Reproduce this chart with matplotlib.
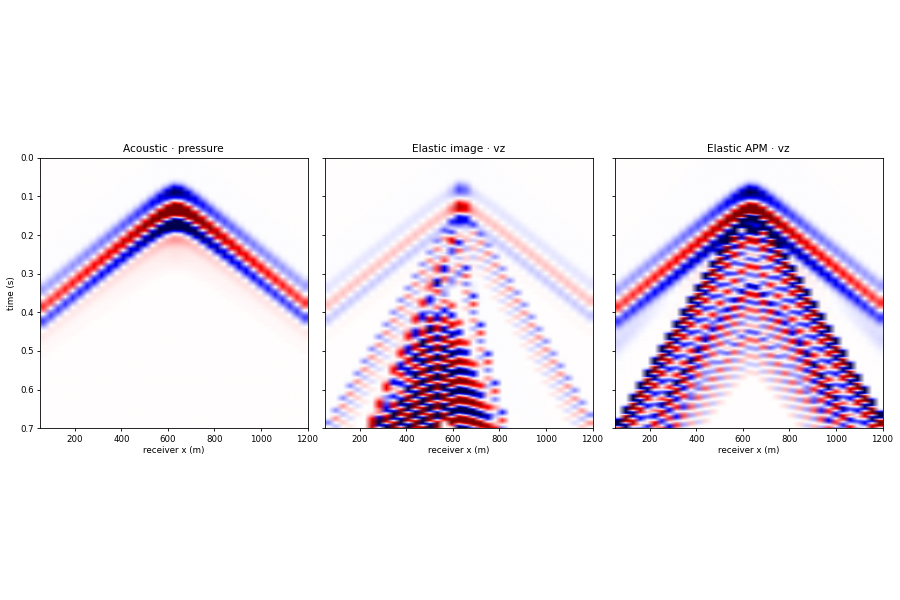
import numpy as np
import matplotlib
matplotlib.use("Agg")
import matplotlib.pyplot as plt

# receiver positions and time axis of the gathers
X_REC = np.linspace(50, 1200, 37)
T_AX = np.arange(0.0, 0.7 + 1e-9, 0.002)
X_SRC = 635.0

PANEL_TITLES = ["Acoustic · pressure", "Elastic image · vz", "Elastic APM · vz"]
X_TICKS = [200, 400, 600, 800, 1000, 1200]
Y_TICKS = [0.0, 0.1, 0.2, 0.3, 0.4, 0.5, 0.6, 0.7]

# wavelet lobes: delay after arrival (s), relative amplitude, width (s)
P_LOBE_T = [-0.045, 0.0, 0.038, 0.075, 0.11]
P_LOBE_A = [-0.36, 0.8, -0.7, 0.07, 0.02]
P_LOBE_W = [0.018, 0.016, 0.016, 0.018, 0.04]

S_LOBE_T = [0.0, 0.021, 0.042, 0.063, 0.084, 0.105]
S_LOBE_A = [-1.0, 0.9, -0.55, 0.45, -0.3, 0.2]
S_LOBE_W = [0.008, 0.008, 0.008, 0.008, 0.008, 0.008]

BAND_LOBE_T = [0.0, 0.035, 0.07, 0.105]
BAND_LOBE_A = [0.6, -0.8, 0.3, -0.6]
BAND_LOBE_W = [0.014, 0.014, 0.014, 0.014]

CODA_LOBE_T = [0.0, 0.025, 0.05, 0.075, 0.10, 0.125, 0.15, 0.175, 0.20, 0.225, 0.25, 0.275, 0.30]
CODA_LOBE_A = [0.3, -0.4, 0.5, -0.6, 0.7, -0.8, 0.9, -1.0, 1.0, -1.0, 1.0, -1.0, 1.0]
CODA_LOBE_W = [0.009] * 13

FILL_LOBE_T = [0.03]
FILL_LOBE_A = [-1.0]
FILL_LOBE_W = [0.04]

WAVELETS = {
    "P": (P_LOBE_T, P_LOBE_A, P_LOBE_W),
    "S": (S_LOBE_T, S_LOBE_A, S_LOBE_W),
    "band": (BAND_LOBE_T, BAND_LOBE_A, BAND_LOBE_W),
    "coda": (CODA_LOBE_T, CODA_LOBE_A, CODA_LOBE_W),
    "fill": (FILL_LOBE_T, FILL_LOBE_A, FILL_LOBE_W),
}

# events of each panel: centre, apex time, left/right velocity, apex rounding,
# amplitude and its change with offset (amp * (1 + h/h0)**pw)
ACOUSTIC_EVENTS = [
    dict(xc=X_SRC, t0=0.135, vl=2100, vr=2100, r=60, amp=3.0, h0=60, pw=-0.75, wav="P"),
]

IMAGE_EVENTS = [
    dict(xc=X_SRC, t0=0.128, vl=2100, vr=2100, r=60, amp=0.9, h0=60, pw=0.0, wav="P", sx=35),
    dict(xc=X_SRC, t0=0.130, vl=2100, vr=2100, r=60, amp=0.15, h0=60, pw=0.0, wav="P"),
    dict(xc=X_SRC, t0=0.150, vl=1000, vr=1000, r=50, amp=0.22, h0=300, pw=0.0, wav="S"),
    dict(xc=600, t0=0.190, vl=400, vr=420, r=20, amp=0.45, h0=80, pw=0.0, wav="S"),
    dict(xc=X_SRC, t0=0.190, vl=720, vr=720, r=40, amp=0.4, h0=100, pw=0.6, wav="band", side="left"),
    dict(xc=570, t0=0.370, vl=910, vr=560, r=30, amp=1.3, h0=100, pw=0.3, wav="coda"),
]

APM_EVENTS = [
    dict(xc=X_SRC, t0=0.135, vl=2100, vr=2100, r=60, amp=3.0, h0=60, pw=-0.75, wav="P"),
    dict(xc=X_SRC, t0=0.150, vl=1000, vr=1000, r=50, amp=1.3, h0=300, pw=0.3, wav="S"),
    dict(xc=X_SRC, t0=0.260, vl=1000, vr=1000, r=50, amp=0.55, h0=300, pw=0.0, wav="S"),
    dict(xc=X_SRC, t0=0.330, vl=1150, vr=1150, r=40, amp=0.8, h0=300, pw=0.0, wav="S"),
    dict(xc=X_SRC, t0=0.100, vl=1600, vr=1600, r=40, amp=0.1, h0=300, pw=0.0, wav="fill"),
    dict(xc=X_SRC, t0=0.450, vl=1300, vr=1300, r=40, amp=0.35, h0=300, pw=0.0, wav="S"),
]


def wavelet(tau, name):
    lt, la, lw = WAVELETS[name]
    out = np.zeros_like(tau)
    for t_k, a_k, w_k in zip(lt, la, lw):
        out += a_k * np.exp(-((tau - t_k) / w_k) ** 2)
    return out


def build_gather(events):
    data = np.zeros((len(T_AX), len(X_REC)))
    for ev in events:
        h = X_REC - ev["xc"]
        v = np.where(h < 0, ev["vl"], ev["vr"])
        t_arr = ev["t0"] + (np.sqrt(h ** 2 + ev["r"] ** 2) - ev["r"]) / v
        amp = ev["amp"] * (1 + np.abs(h) / ev["h0"]) ** ev["pw"]
        if "sx" in ev:
            amp = amp * np.exp(-(h / ev["sx"]) ** 2)
        if ev.get("side") == "left":
            amp = amp / (1 + np.exp(h / 25.0))
        data += amp[None, :] * wavelet(T_AX[:, None] - t_arr[None, :], ev["wav"])
    return data


gathers = [build_gather(ACOUSTIC_EVENTS), build_gather(IMAGE_EVENTS), build_gather(APM_EVENTS)]

plt.rcParams["axes.linewidth"] = 0.6
plt.rcParams["xtick.major.width"] = 0.6
plt.rcParams["ytick.major.width"] = 0.6
plt.rcParams["xtick.major.size"] = 2.5
plt.rcParams["ytick.major.size"] = 2.5

fig = plt.figure(figsize=(9, 6), dpi=100)
lefts = [40 / 900, 325 / 900, 615 / 900]
axes = []
for i, (g, title) in enumerate(zip(gathers, PANEL_TITLES)):
    ax = fig.add_axes([lefts[i], 171.7 / 600, 267.5 / 900, 270.6 / 600],
                      sharey=axes[0] if axes else None)
    ax.imshow(g, cmap="seismic", vmin=-1, vmax=1, aspect="auto",
              interpolation="bilinear",
              extent=[X_REC[0], X_REC[-1], T_AX[-1], T_AX[0]])
    ax.set_title(title, fontsize=7.6, pad=4)
    ax.set_xlabel("receiver x (m)", fontsize=6.3, labelpad=2)
    ax.set_xticks(X_TICKS)
    ax.set_yticks(Y_TICKS)
    ax.tick_params(labelsize=6.2, pad=2)
    if i == 0:
        ax.set_ylabel("time (s)", fontsize=6.3, labelpad=3)
    else:
        ax.tick_params(labelleft=False)
    axes.append(ax)

axes[0].set_ylim(0.7, 0.0)
fig.savefig("out.png", dpi=100)
